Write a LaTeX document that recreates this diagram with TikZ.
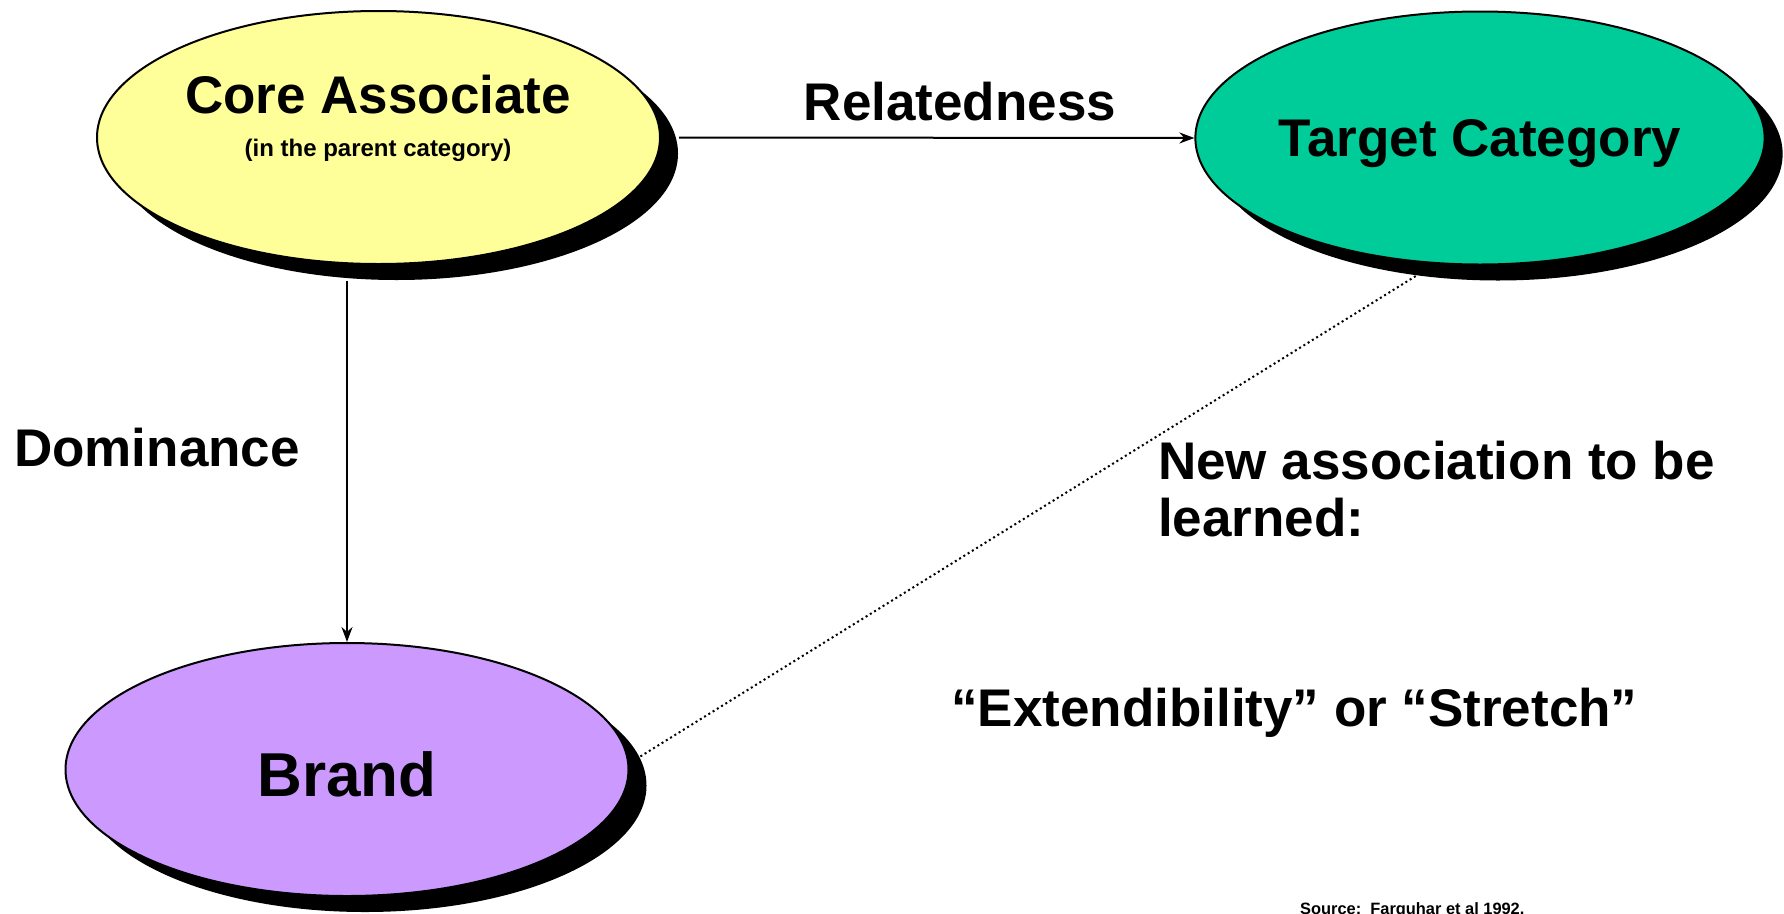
\documentclass[tikz,border=0pt]{standalone}
\usepackage{fontspec}
\setmainfont{Liberation Sans}
\usetikzlibrary{shapes.geometric,shadows,arrows.meta}
\definecolor{coreyellow}{RGB}{255,255,153}
\definecolor{targetgreen}{RGB}{0,204,153}
\definecolor{brandpurple}{RGB}{204,153,255}
\tikzset{
  >={Stealth[length=15pt,width=11pt]},
  blob/.style={ellipse,draw,line width=2pt,minimum width=563pt,minimum height=253pt,
    inner sep=0pt,text depth=0pt,font=\bfseries\fontsize{53}{57}\selectfont,
    drop shadow={shadow xshift=18pt,shadow yshift=-16pt,fill=black,opacity=1}},
  bigtext/.style={font=\bfseries\fontsize{53}{57}\selectfont,inner sep=0pt},
  link/.style={line width=2pt,->},
  dotlink/.style={line width=2pt,dash pattern=on 2pt off 3pt},
}

\begin{document}
\begin{tikzpicture}[x=1pt,y=-1pt]
  \useasboundingbox (0,0) rectangle (1784,913);
  % the three ellipses
  \node[blob,fill=coreyellow] (core) at (378.5,137.5) {};
  \node[blob,fill=targetgreen] (target) at (1480,138) {Target Category};
  \node[blob,fill=brandpurple,font=\bfseries\fontsize{62}{66}\selectfont,text height=54pt] (brand) at (347,769.5) {Brand};
  \node[bigtext,anchor=base] (corename) at (378,113) {Core Associate};
  \node[font=\bfseries\fontsize{24}{28}\selectfont,inner sep=0pt,anchor=base] (corenote) at (378,156) {(in the parent category)};
  % links
  \draw[link] ([xshift=18pt]core.east) -- (target.west)
    node[bigtext,pos=.545,anchor=base,yshift=17pt] (related) {Relatedness};
  \draw[link] ([yshift=-16pt]core.south -| brand.north) -- (brand.north);
  \node[bigtext,anchor=base west] (dominance) at (14,466) {Dominance};
  \draw[dotlink] ([shift={(18pt,-16pt)}]target.236) -- ([shift={(18pt,-16pt)}]brand.6);
  % texts on the right
  \node[bigtext,anchor=north west,align=left] (newassoc) at (1158,441) {New association to be\\learned:};
  \node[bigtext,anchor=base west] (stretch) at (951,726) {“Extendibility” or “Stretch”};
  \node[font=\bfseries\fontsize{16.4}{18}\selectfont,inner sep=0pt,anchor=base west] (source) at (1300,914) {Source:\ \ Farquhar et al 1992.};
\end{tikzpicture}
\end{document}
